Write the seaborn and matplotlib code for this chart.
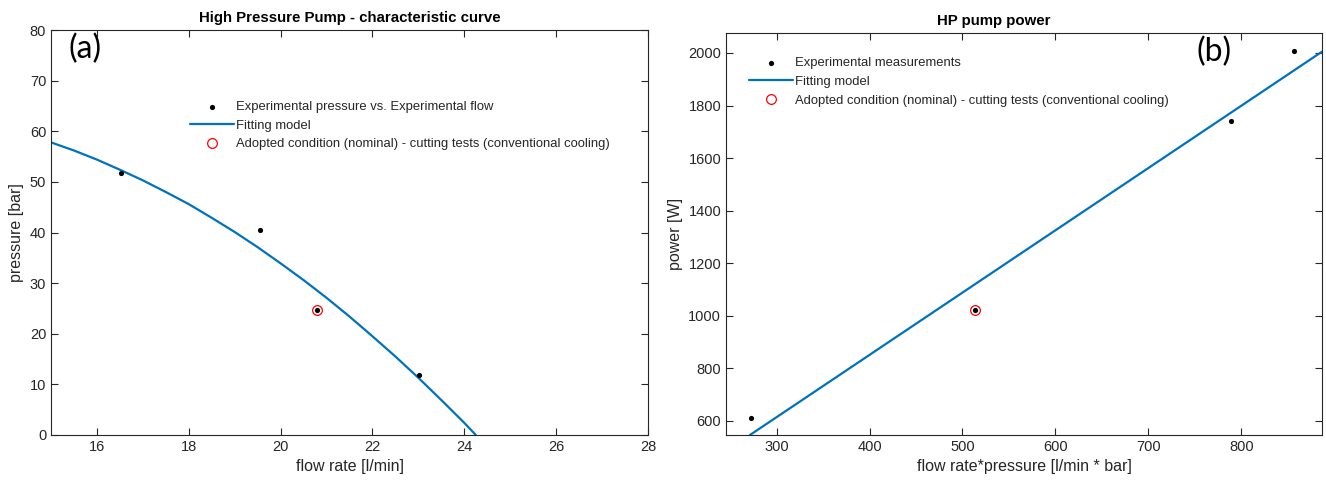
import matplotlib
matplotlib.use("Agg")
import matplotlib.pyplot as plt
import seaborn as sns
import pandas as pd

# (a) pump characteristic curve
flow_exp = [16.53, 19.55, 20.8, 23.02]
pressure_exp = [51.8, 40.4, 24.7, 11.9]
flow_nominal = [20.8]
pressure_nominal = [24.7]
flow_fit = [15, 15.5, 16, 16.5, 17, 17.5, 18, 18.5, 19, 19.5, 20, 20.5,
            21, 21.5, 22, 22.5, 23, 23.5, 24, 24.25]
pressure_fit = [57.8, 56.2, 54.4, 52.4, 50.3, 48.0, 45.6, 42.9, 40.1, 37.1,
                33.9, 30.6, 27.1, 23.4, 19.5, 15.5, 11.3, 6.9, 2.4, 0.0]

# (b) pump power
fp_exp = [273, 514, 789, 857]
power_exp = [612, 1023, 1741, 2007]
fp_nominal = [514]
power_nominal = [1023]
fp_fit = [271.4, 886.8]
power_fit = [546.5, 2005]

BLUE = "#0072BD"

sns.set_style("white")
plt.rcParams["font.family"] = ["Liberation Sans", "DejaVu Sans"]
plt.rcParams["axes.edgecolor"] = "#262626"
plt.rcParams["axes.linewidth"] = 0.8
plt.rcParams["xtick.color"] = "#262626"
plt.rcParams["ytick.color"] = "#262626"
plt.rcParams["text.color"] = "#262626"
plt.rcParams["axes.labelcolor"] = "#262626"

fig = plt.figure(figsize=(13.26, 4.84), dpi=100)
ax1 = fig.add_axes([51 / 1326, 1 - 435 / 484, 597 / 1326, 405 / 484])
ax2 = fig.add_axes([726 / 1326, 1 - 435 / 484, 596 / 1326, 402 / 484])


def style_axes(ax):
    ax.tick_params(direction="in", length=5, width=0.8, labelsize=10.5,
                   top=True, right=True, bottom=True, left=True,
                   labeltop=False, labelright=False)
    for s in ax.spines.values():
        s.set_visible(True)
        s.set_color("#262626")


legend_kw = dict(loc="upper left", frameon=False, fontsize=9.4,
                 handlelength=3.4, handletextpad=0.15, labelspacing=0.5,
                 borderaxespad=0)

# ---- panel (a)
df_a = pd.DataFrame({"flow": flow_exp, "pressure": pressure_exp})
df_fit_a = pd.DataFrame({"flow": flow_fit, "pressure": pressure_fit})
sns.scatterplot(data=df_a, x="flow", y="pressure", ax=ax1, color="black", s=14,
                edgecolor="black", linewidth=0, zorder=3,
                label="Experimental pressure vs. Experimental flow")
sns.lineplot(data=df_fit_a, x="flow", y="pressure", ax=ax1, color=BLUE,
             linewidth=1.6, sort=False, label="Fitting model", zorder=2)
ax1.plot(flow_nominal, pressure_nominal, linestyle="none", marker="o",
         markersize=7, markerfacecolor="none", markeredgecolor="red",
         markeredgewidth=0.9, zorder=4,
         label="Adopted condition (nominal) - cutting tests (conventional cooling)")
ax1.set_xlim(15, 28)
ax1.set_ylim(0, 80)
ax1.set_xticks([16, 18, 20, 22, 24, 26, 28])
ax1.set_yticks(range(0, 81, 10))
ax1.set_xlabel("flow rate [l/min]", fontsize=11.5)
ax1.set_ylabel("pressure [bar]", fontsize=11.5, labelpad=4)
ax1.set_title("High Pressure Pump - characteristic curve", fontsize=10.8,
              fontweight="bold", color="black", pad=6)
style_axes(ax1)
ax1.legend(bbox_to_anchor=(0.224, 0.838), **legend_kw)
ax1.text(0.03, 0.953, "(a)", transform=ax1.transAxes, fontsize=23,
         family=["Lato", "DejaVu Sans"], va="center", ha="left", color="black")

# ---- panel (b)
df_b = pd.DataFrame({"fp": fp_exp, "power": power_exp})
df_fit_b = pd.DataFrame({"fp": fp_fit, "power": power_fit})
sns.scatterplot(data=df_b, x="fp", y="power", ax=ax2, color="black", s=14,
                edgecolor="black", linewidth=0, zorder=3,
                label="Experimental measurements")
sns.lineplot(data=df_fit_b, x="fp", y="power", ax=ax2, color=BLUE,
             linewidth=1.6, sort=False, label="Fitting model", zorder=2)
ax2.plot(fp_nominal, power_nominal, linestyle="none", marker="o",
         markersize=7, markerfacecolor="none", markeredgecolor="red",
         markeredgewidth=0.9, zorder=4,
         label="Adopted condition (nominal) - cutting tests (conventional cooling)")
ax2.set_xlim(245.6, 886.8)
ax2.set_ylim(546.5, 2076)
ax2.set_xticks([300, 400, 500, 600, 700, 800])
ax2.set_yticks(range(600, 2001, 200))
ax2.set_xlabel("flow rate*pressure [l/min * bar]", fontsize=11.5)
ax2.set_ylabel("power [W]", fontsize=11.5, labelpad=4)
ax2.set_title("HP pump power", fontsize=10.8, fontweight="bold", color="black",
              pad=6, x=0.45)
style_axes(ax2)
ax2.legend(bbox_to_anchor=(0.03, 0.953), **legend_kw)
ax2.text(0.79, 0.953, "(b)", transform=ax2.transAxes, fontsize=23,
         family=["Lato", "DejaVu Sans"], va="center", ha="left", color="black")

fig.savefig("out.png", dpi=100)
